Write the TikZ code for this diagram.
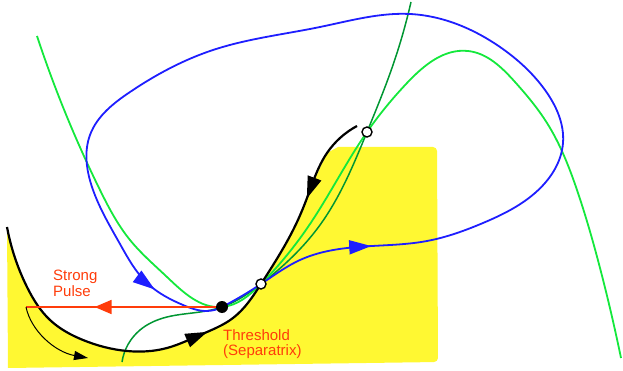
\documentclass[tikz,border=0pt]{standalone}
\usepackage{fontspec}
\setmainfont{Liberation Sans}
\usetikzlibrary{arrows.meta,decorations.markings,hobby}
\definecolor{fillyellow}{RGB}{255,248,50}
\definecolor{trajblue}{RGB}{30,30,255}
\definecolor{nulllight}{RGB}{20,232,60}
\definecolor{nulldark}{RGB}{0,150,50}
\definecolor{pulsered}{RGB}{255,60,10}
\tikzset{
  bigtip/.tip={Triangle[length=22pt,width=14pt]},
  redtip/.tip={Triangle[length=17pt,width=14pt]},
  trajline/.style={trajblue, line width=1.8pt},
  lightnull/.style={nulllight, line width=1.8pt},
  darknull/.style={nulldark, line width=1.5pt},
  sepline/.style={black, line width=2.2pt},
  pulseline/.style={pulsered, line width=1.8pt},
  stabledot/.style={circle, fill=black, inner sep=0pt, minimum size=12pt},
  saddledot/.style={circle, draw=black, fill=white, line width=1.4pt, inner sep=0pt, minimum size=10pt},
  lbl/.style={pulsered, font=\fontsize{15}{15.5}\selectfont, align=left, inner sep=0pt}
}
\begin{document}
\begin{tikzpicture}[x=1pt,y=-1pt]
\useasboundingbox (0,0) rectangle (623,371);
\coordinate (stable) at (222,307);
\coordinate (saddle) at (261,284);
\coordinate (upper) at (367,132);
\coordinate (pulse) at (26,307);
\coordinate (sweep) at (88,358);

% yellow region
\fill[fillyellow, use Hobby shortcut] (7,227) .. (27,287) .. (50,320) .. (83,340) .. (127,351) .. (167,348) .. (200,335) .. (233,318) .. (261,284) .. (297,222) .. (307,198) .. (327,153)
  -- (338,147) [rounded corners=4pt] -- (437,147) -- (438,362) [sharp corners] -- (8,368) -- cycle;

% dark green nullcline
\draw[darknull, use Hobby shortcut] (122,362) .. (140,330) .. (167,317) .. (200,312) .. (stable) .. (saddle) .. (320,225) .. (upper) .. (393,65) .. (411,2);

% light green nullcline
\draw[lightnull, use Hobby shortcut] (37,36) .. (100,190) .. (130,240) .. (167,277) .. (stable) .. (saddle) .. (310,224) .. (upper) .. (407,83) .. (468,51) .. (515,82) .. (547,123) .. (577,190) .. (600,268) .. (621,358);

% blue trajectory
\draw[trajline, postaction={decorate}, decoration={markings,
    mark=at position 0.135 with {\arrow[trajblue]{bigtip}},
    mark=at position 0.94 with {\arrow[trajblue]{bigtip}}}, use Hobby shortcut]
  (stable) .. (saddle) .. (300,260) .. (372,246) .. (427,241) .. (483,223) .. (535,193) .. (563,143) .. (545,90) .. (500,47) .. (410,14) .. (320,27) .. (213,50) .. (130,92) .. (90,135) .. (92,187) .. (120,244) .. (147,283) .. (183,305) .. (207,311) .. (stable);

% separatrix
\draw[sepline, postaction={decorate}, decoration={markings,
    mark=at position 0.51 with {\arrow{bigtip}},
    mark=at position 0.83 with {\arrowreversed{bigtip}}}, use Hobby shortcut]
  (7,227) .. (27,287) .. (50,320) .. (83,340) .. (127,351) .. (167,348) .. (200,335) .. (233,318) .. (saddle) .. (297,222) .. (307,198) .. (327,153) .. (357,126);

% strong pulse
\draw[pulseline, postaction={decorate}, decoration={markings,
    mark=at position 0.65 with {\arrow[pulsered]{redtip}}}]
  (stable) -- (pulse);
\draw[black, line width=1pt, -{Triangle[length=14pt,width=9pt]}] (pulse) .. controls (31,331) and (55,352) .. (sweep);

% fixed points
\node[stabledot] (stablept) at (stable) {};
\node[saddledot] (saddlept) at (saddle) {};
\node[saddledot] (upperpt) at (upper) {};

% labels
\node[lbl, anchor=north west] (pulselbl) at (53,270) {Strong\\Pulse};
\node[lbl, anchor=north west] (threslbl) at (223,329) {Threshold\\(Separatrix)};
\end{tikzpicture}
\end{document}
